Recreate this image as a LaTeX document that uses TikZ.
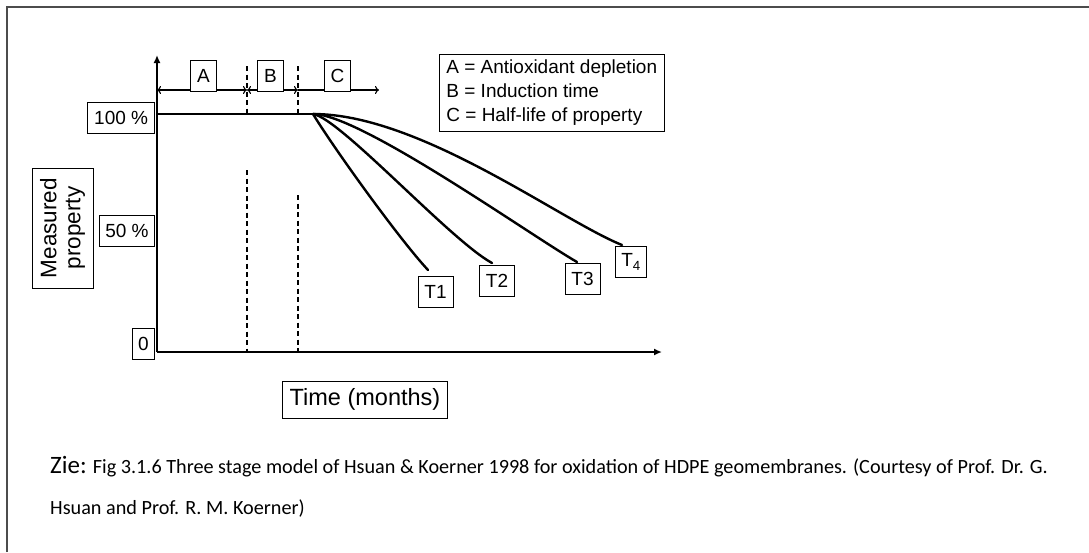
\documentclass[tikz,border=0pt]{standalone}
\usepackage{fontspec}
\setmainfont{Liberation Sans}
\newfontfamily\capfont{Carlito}
\usetikzlibrary{positioning, arrows.meta}

\begin{document}
\begin{tikzpicture}[x=1pt,y=-1pt]
        \tikzstyle{every node}+=[inner sep=0pt]
        \tikzstyle{lbl}=[draw, line width=0.8pt, fill=white, inner xsep=6.5pt, minimum height=31pt, font=\fontsize{19}{24}\selectfont]
        \tikzstyle{axisline}=[line width=2.4pt, -{Latex[length=8pt,width=7pt]}]
        \tikzstyle{spanarrow}=[line width=1.1pt, {To[length=4pt,width=8pt]}-{To[length=4pt,width=8pt]}]
        \tikzstyle{limitline}=[line width=1.3pt, dash pattern=on 5pt off 3.5pt]
        \tikzstyle{ageline}=[line width=2.4pt, line cap=round]
        \tikzstyle{captext}=[anchor=base west, font=\capfont\fontsize{20.2}{24}\selectfont]
        \useasboundingbox (0,0) rectangle (1089,552);
        % frame
        \draw [line width=1.8pt, black!70] (7,552) -- (7,7) -- (1089,7);
        % axes
        \coordinate (o) at (157,352);
        \coordinate (ytop) at (157,55);
        \coordinate (xend) at (662,352);
        \draw [axisline] (o) -- (ytop);
        \draw [axisline] (o) -- (xend);
        % stage limits
        \coordinate (ab) at (247,66);
        \coordinate (bc) at (298,66);
        \draw [limitline] (ab) -- (247,116);
        \draw [limitline] (247,170) -- (247,352);
        \draw [limitline] (bc) -- (298,116);
        \draw [limitline] (298,195) -- (298,352);
        \draw [spanarrow] (157,90) -- (247,90);
        \draw [spanarrow] (247,90) -- (298,90);
        \draw [line width=1.1pt, -{To[length=4pt,width=8pt]}] (298,90) -- (379,90);
        \node [lbl] (A) at (203.5,76) {A};
        \node [lbl] (B) at (270.5,76) {B};
        \node [lbl] (C) at (337.5,76) {C};
        % legend
        \node [draw, line width=0.8pt, anchor=north west, align=left, inner xsep=7pt, inner ysep=5.5pt,
               font=\fontsize{19}{24}\selectfont] (leg) at (439,54)
              {A = Antioxidant depletion\\B = Induction time\\C = Half-life of property};
        % y labels
        \node [lbl, anchor=east] (p100) at (155,118) {100 \%};
        \node [lbl, anchor=east, inner xsep=6pt] (p50) at (155,230.5) {50 \%};
        \node [lbl, anchor=east, inner xsep=6pt] (p0) at (155,343.5) {0};
        \node [draw, line width=0.8pt, rotate=90, align=center, minimum width=120pt, minimum height=61pt,
               font=\fontsize{22.5}{24}\selectfont] (prop) at (62.5,228) {Measured\\property};
        \node [lbl, minimum height=37pt, inner xsep=7pt, font=\fontsize{23.5}{26}\selectfont] (time) at (365,399.5) {Time (months)};
        % curves
        \coordinate (s) at (313,114);
        \draw [ageline] (157,114) -- (s);
        \node [lbl] (T1) at (435.5,291.5) {T1};
        \node [lbl] (T2) at (497,281) {T2};
        \node [lbl] (T3) at (582.5,279) {T3};
        \node [lbl, inner xsep=5.5pt] (T4) at (631,262) {T\textsubscript{4}};
        \coordinate (e1) at (428,270);
        \coordinate (e2) at (492,263);
        \coordinate (e3) at (577,262);
        \coordinate (e4) at (622,245);
        \draw [ageline] (s) .. controls (335,150) and (400,240) .. (e1);
        \draw [ageline] (s) .. controls (340,118) and (450,240) .. (e2);
        \draw [ageline] (s) .. controls (360,114) and (530,235) .. (e3);
        \draw [ageline] (s) .. controls (420,114) and (560,220) .. (e4);
        % caption
        \node [captext] (cap1) at (50,473)
              {{\fontsize{25}{24}\selectfont Zie:} Fig 3.1.6 Three stage model of Hsuan \& Koerner 1998 for oxidation of HDPE geomembranes. (Courtesy of Prof. Dr. G.};
        \node [captext] (cap2) at ([yshift=-41pt]cap1.base west) {Hsuan and Prof. R. M. Koerner)};
\end{tikzpicture}
\end{document}
